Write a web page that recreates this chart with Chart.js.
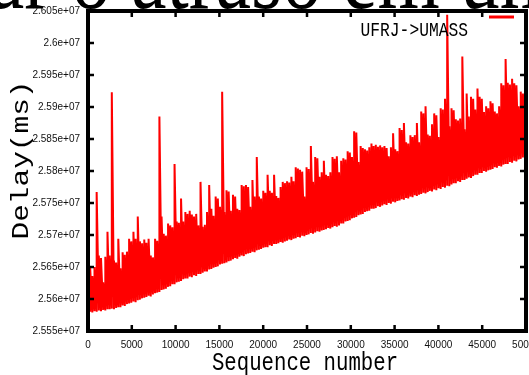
<!DOCTYPE html>
<html>
<head>
<meta charset="utf-8">
<script src="https://cdn.jsdelivr.net/npm/chart.js@4.4.0/dist/chart.umd.min.js"></script>
<style>
  html, body { margin: 0; padding: 0; background: #fff; }
  #wrap { width: 529px; height: 375px; position: relative; }
</style>
</head>
<body>
<div id="wrap"><canvas id="grafico"></canvas></div>
<script>
// numero de sequencia das amostras
let sequence = [
  0,247,494,741,988,1235,1482,1729,1976,2223,
  2470,2717,2964,3211,3458,3705,3952,4199,4446,4693,
  4940,5187,5434,5681,5928,6175,6422,6669,6916,7163,
  7410,7657,7904,8151,8398,8645,8892,9139,9386,9633,
  9880,10127,10374,10621,10868,11115,11362,11609,11856,12103,
  12350,12597,12844,13091,13338,13585,13832,14079,14326,14573,
  14820,15067,15314,15561,15808,16055,16302,16549,16796,17043,
  17290,17537,17784,18031,18278,18525,18772,19019,19266,19513,
  19760,20007,20254,20501,20748,20995,21242,21489,21736,21983,
  22230,22477,22724,22971,23218,23465,23712,23959,24206,24453,
  24700,24947,25194,25441,25688,25935,26182,26429,26676,26923,
  27170,27417,27664,27911,28158,28405,28652,28899,29146,29393,
  29640,29887,30134,30381,30628,30875,31122,31369,31616,31863,
  32110,32357,32604,32851,33098,33345,33592,33839,34086,34333,
  34580,34827,35074,35321,35568,35815,36062,36309,36556,36803,
  37050,37297,37544,37791,38038,38285,38532,38779,39026,39273,
  39520,39767,40014,40261,40508,40755,41002,41249,41496,41743,
  41990,42237,42484,42731,42978,43225,43472,43719,43966,44213,
  44460,44707,44954,45201,45448,45695,45942,46189,46436,46683,
  46930,47177,47424,47671,47918,48165,48412,48659,48906,49153,
  49400,49647,49894
];

// atraso minimo em cada trecho (em milhares de ms)
let delayLowK = [
  25578,25580,25579,25581,25580,25582,25581,25583,25582,25584,
  25584,25585,25584,25586,25587,25587,25590,25589,25592,25593,
  25594,25596,25595,25598,25599,25601,25602,25603,25605,25604,
  25607,25609,25610,25611,25614,25615,25616,25619,25620,25623,
  25623,25626,25627,25628,25631,25632,25632,25635,25634,25637,
  25636,25639,25639,25641,25643,25643,25646,25647,25649,25650,
  25651,25654,25655,25656,25657,25659,25660,25662,25664,25663,
  25666,25668,25667,25670,25671,25672,25674,25673,25676,25677,
  25678,25680,25681,25681,25684,25683,25686,25686,25687,25689,
  25688,25690,25691,25693,25692,25694,25695,25697,25696,25699,
  25698,25700,25701,25703,25702,25704,25706,25705,25707,25708,
  25709,25711,25710,25712,25714,25713,25715,25718,25718,25721,
  25722,25723,25726,25727,25728,25731,25732,25733,25736,25737,
  25738,25741,25741,25742,25745,25744,25746,25748,25747,25750,
  25749,25752,25751,25753,25754,25756,25755,25758,25757,25760,
  25759,25762,25761,25763,25764,25766,25765,25767,25769,25768,
  25771,25770,25773,25772,25775,25774,25777,25776,25779,25781,
  25781,25784,25783,25786,25786,25788,25790,25789,25792,25794,
  25794,25797,25797,25800,25799,25801,25802,25803,25806,25805,
  25808,25807,25810,25811,25811,25814,25813,25816,25815,25818,
  25819,25821,25820
];

// atraso maximo em cada trecho (em milhares de ms)
let delayHighK = [
  25652,25649,25636,25650,25767,25668,25664,25626,25666,25705,
  25668,25923,25660,25657,25694,25648,25673,25669,25674,25694,
  25690,25705,25694,25729,25690,25687,25693,25688,25694,25668,
  25665,25694,25691,25885,25729,25702,25699,25718,25715,25712,
  25811,25721,25719,25757,25721,25736,25733,25738,25732,25729,
  25733,25715,25783,25713,25716,25736,25778,25741,25730,25760,
  25757,25744,25924,25736,25770,25768,25738,25763,25760,25741,
  25739,25778,25776,25778,25775,25744,25786,25760,25822,25760,
  25757,25769,25766,25794,25769,25766,25794,25761,25758,25775,
  25783,25781,25784,25782,25791,25784,25806,25804,25802,25799,
  25760,25806,25803,25839,25783,25822,25820,25791,25798,25816,
  25794,25792,25798,25822,25819,25823,25798,25816,25820,25818,
  25831,25829,25822,25862,25860,25814,25839,25836,25834,25832,
  25837,25843,25839,25841,25838,25840,25837,25839,25836,25823,
  25837,25859,25834,25831,25867,25864,25875,25845,25843,25856,
  25853,25856,25875,25845,25893,25890,25901,25857,25855,25873,
  25890,25887,25853,25898,25896,25913,26044,25870,25898,25895,
  25881,25879,25882,25979,25865,25921,25885,25916,25913,25896,
  25929,25916,25913,25892,25901,25898,25909,25906,25893,25890,
  25901,25937,25934,25975,25938,25935,25944,25937,25934,25901,
  25924,25921,25955
];

let xTicks = [0,5000,10000,15000,20000,25000,30000,35000,40000,45000,50000];
let xTickLabels = ['0','5000','10000','15000','20000','25000','30000','35000','40000','45000','50000'];
let yTicks = [25550000,25600000,25650000,25700000,25750000,25800000,25850000,25900000,25950000,26000000,26050000];
let yTickLabels = ['2.555e+07','2.56e+07','2.565e+07','2.57e+07','2.575e+07','2.58e+07','2.585e+07','2.59e+07','2.595e+07','2.6e+07','2.605e+07'];

let serieNome = 'UFRJ->UMASS';
let tituloVisivel = 'ar o atraso em um';
let eixoX = 'Sequence number';
let eixoY = 'Delay(ms)';

let pontos = [];
for (let i = 0; i < sequence.length; i++) {
  pontos.push({ x: sequence[i], y: delayLowK[i] * 1000 });
  pontos.push({ x: sequence[i], y: delayHighK[i] * 1000 });
}

// texto esticado na vertical, como no png original
function textoEsticado(ctx, txt, x, y, font, align, rot) {
  ctx.save();
  ctx.translate(x, y);
  ctx.scale(1, 1.28);
  if (rot) ctx.rotate(rot);
  ctx.font = font;
  ctx.textAlign = align;
  ctx.textBaseline = 'alphabetic';
  ctx.fillStyle = '#000';
  ctx.fillText(txt, 0, 0);
  ctx.restore();
}

let moldura = {
  id: 'moldura',
  beforeDraw(chart) {
    let ctx = chart.ctx;
    ctx.save();
    ctx.fillStyle = '#fff';
    ctx.fillRect(0, 0, chart.width, chart.height);
    ctx.restore();
  },
  afterDatasetsDraw(chart) {
    let ctx = chart.ctx;
    let a = chart.chartArea;
    ctx.save();
    ctx.strokeStyle = '#000';
    ctx.lineWidth = 4;
    ctx.strokeRect(a.left, a.top, a.right - a.left, a.bottom - a.top);
    ctx.lineWidth = 2.5;
    ctx.beginPath();
    yTicks.forEach(v => {
      let py = chart.scales.y.getPixelForValue(v);
      ctx.moveTo(a.left, py); ctx.lineTo(a.left + 6, py);
      ctx.moveTo(a.right, py); ctx.lineTo(a.right - 6, py);
    });
    xTicks.forEach(v => {
      let px = chart.scales.x.getPixelForValue(v);
      ctx.moveTo(px, a.bottom); ctx.lineTo(px, a.bottom - 6);
      ctx.moveTo(px, a.top); ctx.lineTo(px, a.top + 6);
    });
    ctx.stroke();
    ctx.restore();
  },
  afterDraw(chart) {
    let ctx = chart.ctx;
    // titulo grande cortado no topo
    ctx.save();
    ctx.font = '80px "Liberation Serif"';
    let desloc = ctx.measureText('ar o ').width;
    ctx.restore();
    textoEsticado(ctx, tituloVisivel, 131 - desloc, 8, '80px "Liberation Serif"', 'left');

    textoEsticado(ctx, eixoX, 305, 370, '20.7px "Liberation Mono"', 'center');
    textoEsticado(ctx, eixoY, 27.5, 160, '23px "Liberation Mono"', 'center', -Math.PI / 2);

    // legenda
    textoEsticado(ctx, serieNome, 468, 36, '16.3px "Liberation Mono"', 'right');
    ctx.save();
    ctx.strokeStyle = '#ff0000';
    ctx.lineWidth = 3;
    ctx.beginPath();
    ctx.moveTo(489, 17);
    ctx.lineTo(514, 17);
    ctx.stroke();
    ctx.restore();
  }
};

let ctx = document.getElementById('grafico');

let chartgraph = new Chart(ctx, {
  type: 'line',
  data: {
    datasets: [{
      label: serieNome,
      data: pontos,
      borderColor: '#ff0000',
      borderWidth: 2,
      borderJoinStyle: 'bevel',
      pointRadius: 0,
      tension: 0,
      fill: false
    }]
  },
  options: {
    responsive: true,
    maintainAspectRatio: false,
    animation: false,
    events: [],
    layout: { padding: { top: 11, right: 3, left: 0, bottom: 0 } },
    plugins: {
      legend: { display: false },
      title: { display: false },
      tooltip: { enabled: false }
    },
    scales: {
      x: {
        type: 'linear',
        min: 0,
        max: 50000,
        afterBuildTicks: s => { s.ticks = xTicks.map(v => ({ value: v })); },
        afterFit: s => { s.height = 44; s.paddingLeft = 0; s.paddingRight = 0; },
        grid: { display: false, drawTicks: false },
        border: { display: false },
        ticks: {
          autoSkip: false,
          maxRotation: 0,
          padding: 8,
          color: '#111',
          font: { family: '"Liberation Sans"', size: 10 },
          callback: v => xTickLabels[xTicks.indexOf(v)]
        }
      },
      y: {
        type: 'linear',
        min: 25550000,
        max: 26050000,
        afterBuildTicks: s => { s.ticks = yTicks.map(v => ({ value: v })); },
        afterFit: s => { s.width = 88; s.paddingTop = 0; s.paddingBottom = 0; },
        grid: { display: false, drawTicks: false },
        border: { display: false },
        ticks: {
          padding: 8,
          color: '#111',
          font: { family: '"Liberation Sans"', size: 10 },
          callback: v => yTickLabels[yTicks.indexOf(v)]
        }
      }
    }
  },
  plugins: [moldura]
});
</script>
</body>
</html>
